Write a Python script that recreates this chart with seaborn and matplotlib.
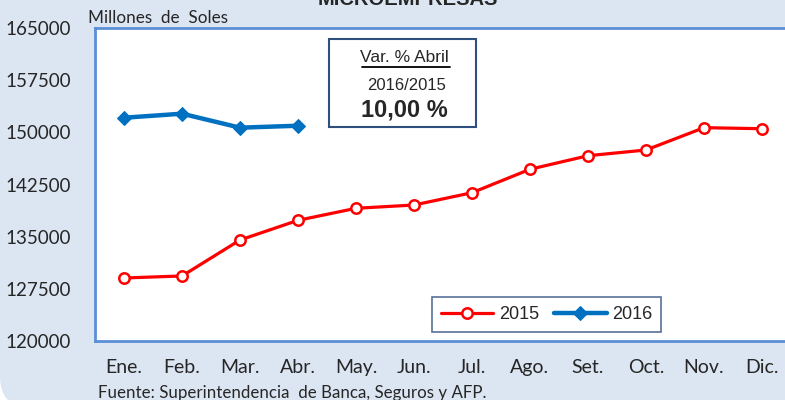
import matplotlib.pyplot as plt
import matplotlib.ticker as ticker
from matplotlib.patches import FancyBboxPatch
import pandas as pd
import seaborn as sns

# data (millones de soles)
meses = ["Ene.", "Feb.", "Mar.", "Abr.", "May.", "Jun.",
         "Jul.", "Ago.", "Set.", "Oct.", "Nov.", "Dic."]
valores_2015 = [129060, 129350, 134520, 137350, 139080, 139550,
                141320, 144690, 146640, 147460, 150670, 150520]
meses_2016 = ["Ene.", "Feb.", "Mar.", "Abr."]
valores_2016 = [152100, 152680, 150670, 150950]
y_ticks = [120000, 127500, 135000, 142500, 150000, 157500, 165000]

df15 = pd.DataFrame({"mes": meses, "valor": valores_2015})
df16 = pd.DataFrame({"mes": meses_2016, "valor": valores_2016})

sns.set_style("white")
plt.rcParams['font.family'] = ['Lato', 'DejaVu Sans']

bg = "#dce6f2"
axis_blue = "#5b8fd6"

fig = plt.figure(figsize=(7.85, 4.0), dpi=100)
fig.patch.set_facecolor("white")
# light blue panel, only the lower left corner is rounded inside the picture
panel = FancyBboxPatch((0.0, -0.02), 1.3, 1.3, boxstyle="round,pad=0,rounding_size=0.04",
                       transform=fig.transFigure, facecolor=bg, edgecolor="none",
                       mutation_aspect=785 / 400, zorder=-10)
fig.patches.append(panel)

# plot area runs to the right edge of the picture (58 px per month)
ax = fig.add_axes([95 / 785, 59 / 400, 690 / 785, 313 / 400])
ax.set_facecolor("white")

sns.lineplot(data=df15, x="mes", y="valor", ax=ax, color="#ff0000", linewidth=2.3,
             marker="o", markersize=7.5, markerfacecolor="white",
             markeredgecolor="#ff0000", markeredgewidth=1.8, label="2015", sort=False)
sns.lineplot(data=df16, x="mes", y="valor", ax=ax, color="#0070c0", linewidth=3.2,
             marker="D", markersize=7.5, markerfacecolor="#0070c0",
             markeredgecolor="#0070c0", label="2016", sort=False)

ax.set_xlim(-0.5, -0.5 + 690 / 58)
ax.set_ylim(y_ticks[0], y_ticks[-1])
ax.set_yticks(y_ticks)
ax.set_yticklabels([str(v) for v in y_ticks], fontsize=13.5)
ax.set_xticks(range(len(meses)))
ax.set_xticklabels(meses, fontsize=14)
ax.tick_params(axis="x", which="major", length=0, pad=13)
ax.xaxis.set_minor_locator(ticker.FixedLocator([i - 0.5 for i in range(len(meses))]))
ax.tick_params(axis="x", which="minor", length=6, color=axis_blue, width=1.2, direction="out")
ax.tick_params(axis="y", length=6, color=axis_blue, width=1.2, direction="out", pad=11.5)
ax.set_xlabel("")
ax.set_ylabel("")
for side in ["left", "bottom", "top"]:
    ax.spines[side].set_visible(True)
    ax.spines[side].set_color(axis_blue)
    ax.spines[side].set_linewidth(2)
ax.spines["right"].set_visible(False)

leg = ax.legend(loc="lower left", bbox_to_anchor=(337 / 690, 9 / 313), ncol=2,
                frameon=True, fancybox=False, handlelength=2.9, borderaxespad=0,
                columnspacing=0.85, handletextpad=0.3, borderpad=0.5,
                prop={"family": "Liberation Sans", "size": 13})
leg.get_frame().set_edgecolor("#2f4f7f")
leg.get_frame().set_linewidth(1.2)

# box with the variation
box = FancyBboxPatch((329 / 785, 1 - 127 / 400), 147 / 785, 88 / 400,
                     boxstyle="square,pad=0", transform=fig.transFigure,
                     facecolor="white", edgecolor="#2f4f7f", linewidth=1.5, zorder=5)
fig.patches.append(box)
fig.text(404 / 785, 1 - 58 / 400, "Var. % Abril", ha="center", va="center",
         fontsize=12.5, family="Liberation Sans", zorder=6)
fig.add_artist(plt.Line2D([362 / 785, 450 / 785], [1 - 67 / 400, 1 - 67 / 400],
                          color="black", linewidth=1.3, zorder=6))
fig.text(407 / 785, 1 - 86 / 400, "2016/2015", ha="center", va="center",
         fontsize=12, family="Liberation Sans", zorder=6)
fig.text(404 / 785, 1 - 110 / 400, "10,00 %", ha="center", va="center",
         fontsize=17, fontweight="bold", family="Liberation Sans", zorder=6)

fig.text(408 / 785, 1 - 5 / 400, "MICROEMPRESAS", ha="center", va="baseline",
         fontsize=14.5, fontweight="bold", family="Liberation Sans")
fig.text(88 / 785, 1 - 18 / 400, "Millones  de  Soles", ha="left", va="center", fontsize=12.3)
fig.text(98 / 785, 1 - 393 / 400, "Fuente: Superintendencia  de Banca, Seguros y AFP.",
         ha="left", va="center", fontsize=12.2)

fig.savefig("out.png", dpi=100, bbox_inches=None, facecolor=fig.get_facecolor())
